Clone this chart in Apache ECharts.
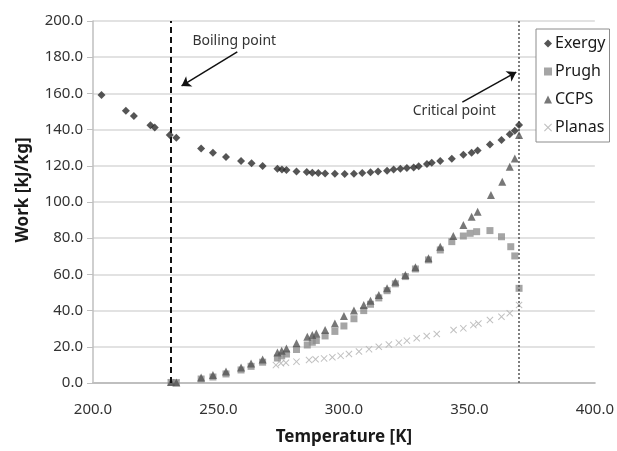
<!DOCTYPE html>
<html>
<head>
<meta charset="utf-8">
<script src="https://cdn.jsdelivr.net/npm/echarts@6/dist/echarts.min.js"></script>
<style>
  html, body { margin: 0; padding: 0; background: #fff; }
  #chart { width: 617px; height: 451px; }
</style>
</head>
<body>
<div id="chart"></div>
<script>
// temperatures [K] and work [kJ/kg]
var exergyT = [203.4, 213.1, 216.3, 222.9, 224.6, 230.6, 233.2, 243.1, 247.8, 253.0, 259.0, 263.2, 267.6, 273.5, 275.3, 277.1, 281.1, 285.2, 287.4, 289.8, 292.5, 296.4, 300.3, 304.0, 307.3, 310.6, 313.6, 317.2, 319.8, 322.5, 325.1, 327.8, 329.8, 333.1, 335.0, 338.4, 343.0, 347.6, 350.9, 353.3, 358.2, 362.8, 366.1, 368.1, 369.8];
var exergyW = [159.1, 150.4, 147.5, 142.4, 141.1, 137.0, 135.5, 129.6, 127.2, 124.9, 122.7, 121.4, 119.9, 118.4, 118.0, 117.7, 116.9, 116.6, 116.2, 116.0, 115.8, 115.6, 115.5, 115.6, 116.0, 116.4, 116.9, 117.3, 118.0, 118.4, 118.8, 119.1, 119.7, 121.0, 121.7, 122.7, 123.9, 126.1, 127.2, 128.4, 131.7, 134.3, 137.4, 139.3, 142.5];

var ccpsT = [231.1, 233.2, 243.1, 247.8, 253.0, 259.0, 263.0, 267.6, 273.5, 275.2, 277.1, 281.1, 285.4, 287.4, 289.0, 292.5, 296.4, 300.0, 304.0, 307.9, 310.6, 313.9, 317.2, 320.5, 324.5, 328.5, 333.7, 338.4, 343.6, 347.6, 350.9, 353.3, 358.6, 363.1, 366.1, 368.1, 369.8];
var ccpsW = [0.5, 0.3, 3.1, 4.4, 6.3, 8.6, 10.8, 13.0, 16.8, 17.8, 19.1, 21.9, 25.6, 26.5, 27.4, 29.3, 32.9, 37.0, 40.0, 43.1, 45.5, 48.6, 52.3, 56.0, 59.7, 63.9, 68.9, 75.3, 81.2, 87.3, 91.9, 94.6, 103.9, 111.2, 119.5, 124.1, 137.0];

var prughT = [231.1, 233.2, 243.1, 247.8, 253.0, 259.0, 263.0, 267.6, 273.5, 275.2, 277.1, 281.1, 285.4, 287.4, 289.0, 292.5, 296.4, 300.0, 304.0, 307.9, 310.6, 313.9, 317.2, 320.5, 324.5, 328.5, 333.7, 338.4, 343.0, 347.6, 350.3, 352.9, 358.2, 362.8, 366.5, 368.1, 369.8];
var prughW = [0.3, 0.2, 2.2, 3.3, 5.0, 7.2, 9.2, 11.5, 13.8, 15.0, 16.0, 18.5, 21.0, 22.5, 23.5, 26.0, 28.5, 31.5, 35.5, 40.0, 43.5, 47.0, 51.0, 54.8, 58.8, 63.0, 68.0, 73.5, 78.1, 81.2, 82.7, 83.6, 84.2, 80.8, 75.3, 70.2, 52.3];

var planasT = [231.1, 233.2, 272.9, 274.9, 276.9, 281.1, 286.1, 288.7, 292.1, 295.4, 298.7, 302.0, 306.0, 310.0, 313.9, 317.9, 321.9, 325.1, 329.0, 333.0, 337.0, 343.7, 347.6, 351.6, 353.6, 358.2, 362.8, 366.1, 369.8];
var planasW = [0.2, 0.1, 9.9, 10.9, 11.2, 11.8, 12.7, 13.1, 13.6, 14.2, 15.0, 16.0, 17.4, 18.7, 20.0, 21.3, 22.3, 23.4, 24.7, 26.0, 27.1, 29.3, 30.2, 32.0, 32.9, 34.8, 36.6, 38.5, 43.1];

var boilingT = 231.1;
var criticalT = 369.8;

function zip(xs, ys) {
  return xs.map(function (x, i) { return [x, ys[i]]; });
}

var crossIcon = 'path://M0,1L1,0L5,4L9,0L10,1L6,5L10,9L9,10L5,6L1,10L0,9L4,5Z';
var labelFont = '"Noto Sans", "Open Sans", sans-serif';

var chart = echarts.init(document.getElementById('chart'));
chart.setOption({
  animation: false,
  textStyle: { fontFamily: labelFont },
  grid: { left: 93, right: 19, top: 21, bottom: 68 },
  legend: {
    orient: 'vertical',
    left: 536,
    top: 29,
    width: 76,
    padding: [6, 4, 6, 8],
    itemGap: 11,
    itemWidth: 8,
    itemHeight: 8,
    backgroundColor: '#fff',
    borderColor: '#8c8c8c',
    borderWidth: 1,
    textStyle: { fontSize: 16, color: '#1a1a1a', lineHeight: 17, padding: [0, 0, 0, -2] },
    data: ['Exergy', 'Prugh', 'CCPS', 'Planas']
  },
  xAxis: {
    type: 'value',
    min: 200,
    max: 400,
    interval: 50,
    name: 'Temperature [K]',
    nameLocation: 'middle',
    nameGap: 46,
    nameTextStyle: { fontSize: 17, fontWeight: 'bold', color: '#1a1a1a' },
    axisLine: { lineStyle: { color: '#bfbfbf', width: 2 } },
    axisTick: { show: false },
    axisLabel: { margin: 19, fontSize: 15, color: '#333', formatter: function (v) { return v.toFixed(1); } },
    splitLine: { show: false }
  },
  yAxis: {
    type: 'value',
    min: 0,
    max: 200,
    interval: 20,
    name: 'Work [kJ/kg]',
    nameLocation: 'middle',
    nameGap: 61,
    nameTextStyle: { fontSize: 17, fontWeight: 'bold', color: '#1a1a1a', padding: [0, 0, 0, 24] },
    axisLine: { show: true, lineStyle: { color: '#bfbfbf', width: 1.5 } },
    axisTick: { show: true, length: 6, lineStyle: { color: '#bfbfbf' } },
    axisLabel: { margin: 10, fontSize: 15, color: '#333', formatter: function (v) { return v.toFixed(1); } },
    splitLine: { lineStyle: { color: '#d9d9d9', width: 1.5 } }
  },
  series: [
    {
      name: 'Exergy',
      type: 'scatter',
      symbol: 'diamond',
      symbolSize: 8,
      itemStyle: { color: '#2b2b2b' },
      data: zip(exergyT, exergyW),
      z: 5,
      markLine: {
        silent: true,
        symbol: 'none',
        label: { show: false },
        data: [
          { xAxis: boilingT, lineStyle: { color: '#111', width: 2, type: [6, 4] } },
          { xAxis: criticalT, lineStyle: { color: '#555', width: 1.5, type: [2, 2] } },
          [
            { coord: [257.5, 182.9], symbol: 'none', lineStyle: { color: '#111', width: 1.5, type: 'solid' } },
            { coord: [235.3, 164.1], symbol: 'arrow', symbolSize: 9 }
          ],
          [
            { coord: [347.2, 155.2], symbol: 'none', lineStyle: { color: '#111', width: 1.5, type: 'solid' } },
            { coord: [368.7, 171.8], symbol: 'arrow', symbolSize: 9 }
          ]
        ]
      },
      markPoint: {
        silent: true,
        symbol: 'circle',
        symbolSize: 1,
        itemStyle: { color: 'rgba(0,0,0,0)' },
        label: { show: true, position: 'inside', fontSize: 14, color: '#333', fontFamily: labelFont },
        data: [
          { coord: [256.3, 189.0], value: 'Boiling point', label: { formatter: 'Boiling point' } },
          { coord: [344.0, 150.3], value: 'Critical point', label: { formatter: 'Critical point' } }
        ]
      }
    },
    {
      name: 'Prugh',
      type: 'scatter',
      symbol: 'rect',
      symbolSize: 7,
      itemStyle: { color: '#8f8f8f' },
      data: zip(prughT, prughW),
      z: 3
    },
    {
      name: 'CCPS',
      type: 'scatter',
      symbol: 'triangle',
      symbolSize: 8,
      itemStyle: { color: '#555' },
      data: zip(ccpsT, ccpsW),
      z: 4
    },
    {
      name: 'Planas',
      type: 'scatter',
      symbol: crossIcon,
      symbolSize: 7,
      itemStyle: { color: '#b0b0b0' },
      data: zip(planasT, planasW),
      z: 2
    }
  ]
});
</script>
</body>
</html>
